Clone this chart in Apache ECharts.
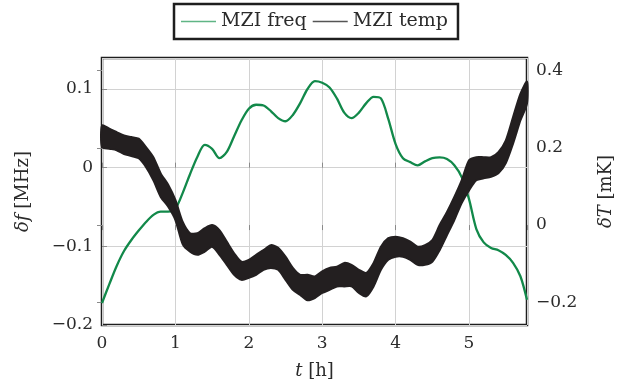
<!DOCTYPE html>
<html>
<head>
<meta charset="utf-8">
<script src="https://cdn.jsdelivr.net/npm/echarts@6/dist/echarts.min.js"></script>
<style>
  html, body { margin: 0; padding: 0; background: #fff; }
  #chart { width: 623px; height: 385px; }
</style>
</head>
<body>
<div id="chart"></div>
<script>
// time axis [h]
const hours = [0, 0.1, 0.2, 0.3, 0.4, 0.5, 0.6, 0.7, 0.8, 0.9,
  1.0, 1.1, 1.2, 1.3, 1.4, 1.5, 1.6, 1.7, 1.8, 1.9,
  2.0, 2.1, 2.2, 2.3, 2.4, 2.5, 2.6, 2.7, 2.8, 2.9,
  3.0, 3.1, 3.2, 3.3, 3.4, 3.5, 3.6, 3.7, 3.8, 3.9,
  4.0, 4.1, 4.2, 4.3, 4.4, 4.5, 4.6, 4.7, 4.8, 4.9,
  5.0, 5.1, 5.2, 5.3, 5.4, 5.5, 5.6, 5.7, 5.79];

// MZI freq, delta f [MHz] (left axis)
const freqMHz = [-0.172, -0.148, -0.125, -0.106, -0.092, -0.080, -0.069, -0.060, -0.056, -0.056,
  -0.052, -0.032, -0.008, 0.014, 0.029, 0.024, 0.012, 0.020, 0.040, 0.060,
  0.075, 0.080, 0.079, 0.072, 0.063, 0.059, 0.067, 0.082, 0.100, 0.110,
  0.108, 0.102, 0.088, 0.070, 0.063, 0.070, 0.082, 0.090, 0.088, 0.062,
  0.030, 0.012, 0.007, 0.003, 0.008, 0.012, 0.013, 0.011, 0.003, -0.012,
  -0.040, -0.078, -0.095, -0.102, -0.105, -0.111, -0.121, -0.138, -0.168];

// MZI temp, delta T [mK] (right axis): lower and upper edge of the noisy trace
const tempLow = [0.202, 0.198, 0.194, 0.184, 0.179, 0.173, 0.150, 0.116, 0.073, 0.048,
  0.013, -0.050, -0.069, -0.077, -0.069, -0.056, -0.077, -0.103, -0.129, -0.142,
  -0.137, -0.129, -0.116, -0.111, -0.116, -0.142, -0.168, -0.181, -0.195, -0.189,
  -0.176, -0.168, -0.159, -0.159, -0.159, -0.176, -0.185, -0.159, -0.116, -0.090,
  -0.082, -0.082, -0.090, -0.103, -0.103, -0.095, -0.065, -0.026, 0.013, 0.057,
  0.090, 0.116, 0.121, 0.125, 0.134, 0.160, 0.211, 0.271, 0.315];
const tempHigh = [0.258, 0.250, 0.241, 0.232, 0.228, 0.224, 0.202, 0.176, 0.134, 0.105,
  0.065, 0.008, -0.021, -0.021, -0.008, 0.000, -0.013, -0.043, -0.073, -0.095,
  -0.090, -0.077, -0.065, -0.052, -0.059, -0.082, -0.111, -0.129, -0.129, -0.133,
  -0.120, -0.111, -0.108, -0.098, -0.103, -0.116, -0.124, -0.098, -0.056, -0.034,
  -0.030, -0.034, -0.043, -0.056, -0.052, -0.039, 0.000, 0.034, 0.073, 0.116,
  0.168, 0.176, 0.176, 0.176, 0.189, 0.219, 0.280, 0.340, 0.372];

// tick labels
const xTickLabels = [0, 1, 2, 3, 4, 5];
const freqTickLabels = [-0.2, -0.1, 0, 0.1];
const tempTickLabels = [-0.2, 0, 0.2, 0.4];

const FONT = 'DejaVu Serif';
const TEXT = '#2b2b2b';
const GREEN = '#12894a';
const BLACK = '#231f20';

const fmt = (list) => (v) => {
  const hit = list.find(t => Math.abs(t - v) < 1e-6);
  if (hit === undefined) return '';
  return (hit < 0 ? '\u2212' : '') + String(Math.abs(hit));
};

const nameStyle = {
  fontFamily: FONT,
  fontSize: 18,
  color: TEXT,
  rich: { i: { fontFamily: FONT, fontSize: 18, fontStyle: 'italic', color: TEXT } }
};

const tickStyle = { show: true, inside: true, length: 5, lineStyle: { color: '#8a8a8a', width: 1 } };

const chart = echarts.init(document.getElementById('chart'));

// band between the lower and upper edge of the temperature trace
const renderTempBand = (params, api) => {
  if (params.dataIndex !== 0) return null;
  const upper = hours.map((h, i) => api.coord([h, tempHigh[i]]));
  const lower = hours.map((h, i) => api.coord([h, tempLow[i]])).reverse();
  return {
    type: 'polygon',
    shape: { points: upper.concat(lower), smooth: 0.25 },
    style: { fill: BLACK, stroke: BLACK, lineWidth: 2 }
  };
};

chart.setOption({
  animation: false,
  grid: {
    left: 102, right: 95, top: 58, bottom: 59,
    show: true,
    borderColor: '#1e1e1e',
    borderWidth: 2.5,
    backgroundColor: 'transparent'
  },
  legend: {
    left: 174,
    top: 4,
    padding: [8, 10, 8, 7],
    itemGap: 6,
    itemWidth: 35,
    itemHeight: 1.5,
    borderColor: '#1e1e1e',
    borderWidth: 2.5,
    textStyle: { fontFamily: FONT, fontSize: 19, color: TEXT },
    data: [
      { name: 'MZI freq', icon: 'rect', itemStyle: { color: '#5fb585' } },
      { name: 'MZI temp', icon: 'rect', itemStyle: { color: '#555' } }
    ]
  },
  xAxis: [
    {
      type: 'value',
      min: 0,
      max: 5.79,
      interval: 1,
      name: '{i|t} [h]',
      nameLocation: 'middle',
      nameGap: 37,
      nameTextStyle: nameStyle,
      axisLine: { show: false },
      axisTick: tickStyle,
      axisLabel: {
        fontFamily: FONT, fontSize: 17, color: TEXT, margin: 10,
        showMaxLabel: false,
        formatter: fmt(xTickLabels)
      },
      splitLine: { show: true, lineStyle: { color: '#d2d2d2', width: 1 } }
    },
    {
      // mirrored ticks along the top edge
      type: 'value',
      position: 'top',
      min: 0,
      max: 5.79,
      interval: 1,
      axisLine: { show: false },
      axisTick: tickStyle,
      axisLabel: { show: false },
      splitLine: { show: false }
    }
  ],
  yAxis: [
    {
      type: 'value',
      position: 'left',
      min: -0.2,
      max: 0.1394,
      interval: 0.1,
      name: '{i|\u03b4f} [MHz]',
      nameLocation: 'middle',
      nameRotate: 90,
      nameGap: 70,
      nameTextStyle: nameStyle,
      axisLine: { show: false },
      axisTick: tickStyle,
      axisLabel: {
        fontFamily: FONT, fontSize: 17, color: TEXT, margin: 9,
        showMaxLabel: false,
        formatter: fmt(freqTickLabels)
      },
      splitLine: { show: true, lineStyle: { color: '#d2d2d2', width: 1 } }
    },
    {
      type: 'value',
      position: 'right',
      min: -0.259,
      max: 0.433,
      splitNumber: 3,
      name: '{i|\u03b4T} [mK]',
      nameLocation: 'middle',
      nameRotate: 90,
      nameGap: 70,
      nameTextStyle: nameStyle,
      axisLine: { show: false },
      axisTick: tickStyle,
      axisLabel: {
        fontFamily: FONT, fontSize: 17, color: TEXT, margin: 9,
        showMinLabel: false,
        showMaxLabel: false,
        formatter: fmt(tempTickLabels)
      },
      splitLine: { show: false }
    }
  ],
  series: [
    {
      name: 'MZI freq',
      type: 'line',
      xAxisIndex: 0,
      yAxisIndex: 0,
      showSymbol: false,
      smooth: 0.3,
      data: hours.map((h, i) => [h, freqMHz[i]]),
      lineStyle: { color: GREEN, width: 2.3 },
      itemStyle: { color: GREEN },
      z: 2
    },
    {
      name: 'MZI temp',
      type: 'custom',
      xAxisIndex: 0,
      yAxisIndex: 1,
      data: hours.map((h, i) => [h, tempLow[i], tempHigh[i]]),
      encode: { x: 0, y: [1, 2] },
      renderItem: renderTempBand,
      itemStyle: { color: BLACK },
      z: 3
    }
  ]
});
</script>
</body>
</html>
